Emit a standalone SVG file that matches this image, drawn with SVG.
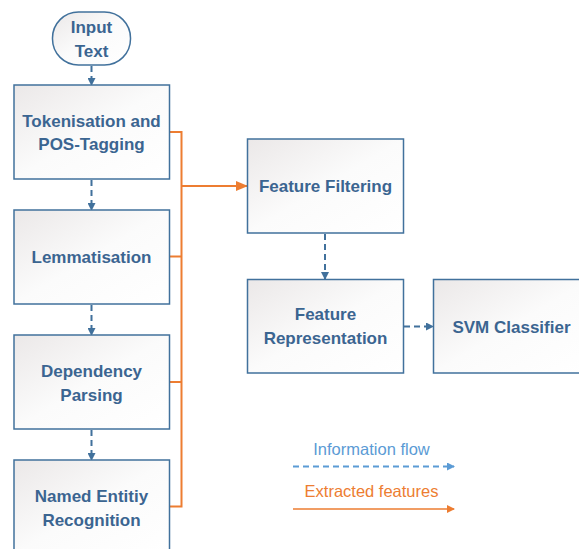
<svg xmlns="http://www.w3.org/2000/svg" width="579" height="549" viewBox="0 0 579 549">
<defs>
<linearGradient id="g" x1="0" y1="0" x2="1" y2="1">
<stop offset="0" stop-color="#ebe8e8"/>
<stop offset="0.5" stop-color="#fbfbfb"/>
<stop offset="1" stop-color="#ffffff"/>
</linearGradient>
<marker id="ab" markerWidth="8" markerHeight="8" refX="7" refY="4" orient="auto" markerUnits="userSpaceOnUse">
<path d="M0,0 L8,4 L0,8 Z" fill="#41719c"/>
</marker>
<marker id="ao" markerWidth="12" markerHeight="12" refX="11" refY="6" orient="auto" markerUnits="userSpaceOnUse">
<path d="M0,1 L12,6 L0,11 Z" fill="#ed7d31"/>
</marker>
<marker id="al" markerWidth="8" markerHeight="8" refX="7" refY="4" orient="auto" markerUnits="userSpaceOnUse">
<path d="M0,0 L8,4 L0,8 Z" fill="#5b9bd5"/>
</marker>
<marker id="alo" markerWidth="8" markerHeight="8" refX="7" refY="4" orient="auto" markerUnits="userSpaceOnUse">
<path d="M0,0 L8,4 L0,8 Z" fill="#ed7d31"/>
</marker>
</defs>
<style>
.box{fill:url(#g);stroke:#41719c;stroke-width:1.5}
.t{font-family:"Liberation Sans",Arial,sans-serif;font-weight:bold;font-size:17px;fill:#3b6591;text-anchor:middle}
.flow{fill:none;stroke:#41719c;stroke-width:2;stroke-dasharray:6,4}
.ext{fill:none;stroke:#ed7d31;stroke-width:2}
.lg{font-family:"Liberation Sans",Arial,sans-serif;font-size:16.5px;text-anchor:middle}
</style>
<rect width="579" height="549" fill="#ffffff"/>
<g id="connectors">
<path class="flow" d="M91.5,66 V85" marker-end="url(#ab)"/>
<path class="flow" d="M91.5,180 V210" marker-end="url(#ab)"/>
<path class="flow" d="M91.5,305 V335" marker-end="url(#ab)"/>
<path class="flow" d="M91.5,430 V460" marker-end="url(#ab)"/>
<path class="flow" d="M325,234 V279" marker-end="url(#ab)"/>
<path class="flow" d="M404,326.5 H433" marker-end="url(#ab)"/>
<path class="ext" d="M169.5,132 H181.5 V506.5 H169.5"/>
<path class="ext" stroke-width="1.3" d="M169.5,256.5 H181.5"/>
<path class="ext" stroke-width="1.3" d="M169.5,382 H181.5"/>
<path class="ext" stroke-width="2.5" d="M181.5,186 H247" marker-end="url(#ao)"/>
</g>
<g id="input-text">
<rect class="box" x="52.5" y="12" width="78" height="53" rx="26" ry="26"/>
<text class="t" x="91.5" y="33">Input</text>
<text class="t" x="91.5" y="57">Text</text>
</g>
<g id="tokenisation">
<rect class="box" x="14" y="85" width="155.5" height="94"/>
<text class="t" x="91.5" y="127">Tokenisation and</text>
<text class="t" x="91.5" y="150">POS-Tagging</text>
</g>
<g id="lemmatisation">
<rect class="box" x="14" y="210" width="155.5" height="94"/>
<text class="t" x="91.5" y="263">Lemmatisation</text>
</g>
<g id="dependency-parsing">
<rect class="box" x="14" y="335" width="155.5" height="94"/>
<text class="t" x="91.5" y="377">Dependency</text>
<text class="t" x="91.5" y="401">Parsing</text>
</g>
<g id="named-entity">
<rect class="box" x="14" y="460" width="155.5" height="94"/>
<text class="t" x="91.5" y="502">Named Entitiy</text>
<text class="t" x="91.5" y="526">Recognition</text>
</g>
<g id="feature-filtering">
<rect class="box" x="247.5" y="139" width="156" height="94"/>
<text class="t" x="325.5" y="192">Feature Filtering</text>
</g>
<g id="feature-representation">
<rect class="box" x="247.5" y="279.5" width="156" height="93.5"/>
<text class="t" x="325.5" y="320">Feature</text>
<text class="t" x="325.5" y="344">Representation</text>
</g>
<g id="svm-classifier">
<rect class="box" x="433.5" y="279.5" width="156" height="93.5"/>
<text class="t" x="511.5" y="333">SVM Classifier</text>
</g>
<g id="legend">
<text class="lg" x="371.5" y="455" fill="#5b9bd5">Information flow</text>
<path d="M293,466.5 H454" fill="none" stroke="#5b9bd5" stroke-width="2" stroke-dasharray="6,4" marker-end="url(#al)"/>
<text class="lg" x="371.5" y="497" fill="#ed7d31">Extracted features</text>
<path d="M293,509 H454" fill="none" stroke="#ed7d31" stroke-width="1.3" marker-end="url(#alo)"/>
</g>
</svg>
